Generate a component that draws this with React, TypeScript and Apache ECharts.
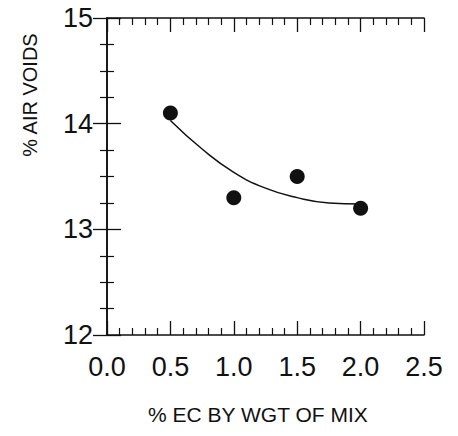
import React, { useEffect, useRef } from "react";
import * as echarts from "echarts";

const xValues = [0.5, 1.0, 1.5, 2.0];
const airVoids = [14.1, 13.3, 13.5, 13.2];
const fitX = [0.5, 0.75, 1.0, 1.25, 1.5, 1.75, 2.0];
const fitY = [14.03, 13.76, 13.54, 13.39, 13.3, 13.25, 13.24];
const xTitle = "% EC BY WGT OF MIX";
const yTitle = "% AIR VOIDS";

const FONT = "'Liberation Sans', Arial, Helvetica, sans-serif";
const INK = "#111";

export default function App() {
  const ref = useRef<HTMLDivElement>(null);
  useEffect(() => {
    if (!ref.current) return;
    const chart = echarts.init(ref.current, null, { renderer: "svg" });
    const tickCommon = {
      axisLine: { show: true, lineStyle: { color: INK, width: 1.6 } },
      axisTick: { show: true, inside: true, length: 14, lineStyle: { color: INK, width: 1.3 } },
      minorTick: { show: true, length: 7, lineStyle: { color: INK, width: 1.2 } },
      splitLine: { show: false },
      minorSplitLine: { show: false },
    };
    chart.setOption({
      animation: false,
      backgroundColor: "#fff",
      grid: { left: 107, right: 34, top: 18, bottom: 101, containLabel: false },
      xAxis: [
        {
          type: "value", position: "bottom", min: 0, max: 2.5, interval: 0.5,
          ...tickCommon,
          minorTick: { ...tickCommon.minorTick, splitNumber: 5 },
          axisLabel: { show: true, margin: 18, fontSize: 27, color: INK, fontFamily: FONT, formatter: (v: number) => v.toFixed(1) },
        },
        {
          type: "value", position: "top", min: 0, max: 2.5, interval: 0.5,
          ...tickCommon,
          minorTick: { ...tickCommon.minorTick, splitNumber: 5 },
          axisLabel: { show: false },
        },
      ],
      yAxis: [
        {
          type: "value", position: "left", min: 12, max: 15, interval: 1,
          ...tickCommon,
          minorTick: { ...tickCommon.minorTick, splitNumber: 4 },
          axisLabel: { show: true, margin: 14, fontSize: 27, color: INK, fontFamily: FONT },
        },
        {
          type: "value", position: "right", min: 12, max: 15, interval: 1,
          ...tickCommon,
          minorTick: { ...tickCommon.minorTick, splitNumber: 4 },
          axisLabel: { show: false },
        },
      ],
      graphic: [
        {
          type: "text", left: 263 - 115, top: 404,
          style: { text: xTitle, fontSize: 21, fontFamily: FONT, fill: INK },
        },
        {
          type: "text", x: 20, y: 95, rotation: Math.PI / 2,
          style: { text: yTitle, fontSize: 20, fontFamily: FONT, fill: INK, align: "center", verticalAlign: "top" },
        },
      ],
      series: [
        {
          type: "line", xAxisIndex: 0, yAxisIndex: 0, smooth: true, symbol: "none",
          lineStyle: { color: INK, width: 1.5 },
          data: fitX.map((x, i) => [x, fitY[i]]),
          z: 2,
        },
        {
          type: "scatter", xAxisIndex: 0, yAxisIndex: 0, symbol: "circle", symbolSize: 15,
          itemStyle: { color: INK, opacity: 1 },
          data: xValues.map((x, i) => [x, airVoids[i]]),
          z: 3,
        },
      ],
    });
    return () => chart.dispose();
  }, []);
  return <div ref={ref} style={{ position: "fixed", left: 0, top: 0, width: 458, height: 436 }} />;
}
